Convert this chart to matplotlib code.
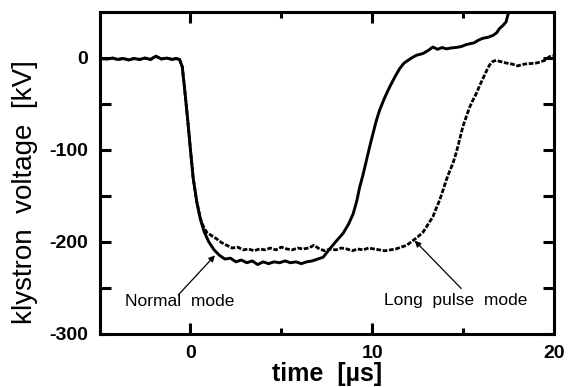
import matplotlib
matplotlib.use("Agg")
import matplotlib.pyplot as plt
from matplotlib.ticker import MultipleLocator

plt.rcParams['font.family'] = ['Liberation Sans', 'DejaVu Sans']
plt.rcParams['axes.unicode_minus'] = False

# Normal mode (solid)
t_normal = [-5.0, -4.6, -4.3, -4.0, -3.7, -3.4, -3.1, -2.8, -2.5, -2.2, -1.9, -1.6,
            -1.3, -1.0, -0.8, -0.6, -0.45, -0.3, -0.15, 0.0, 0.15, 0.35, 0.55, 0.75,
            1.0, 1.3, 1.6, 1.9, 2.2, 2.5, 2.8, 3.1, 3.4, 3.7, 4.0, 4.3, 4.6, 4.9,
            5.2, 5.5, 5.8, 6.1, 6.4, 6.7, 7.0, 7.3, 7.66, 8.0, 8.4, 8.7, 8.95, 9.15,
            9.31, 9.5, 9.68, 9.86, 10.04, 10.22, 10.41, 10.7, 10.96, 11.25, 11.51,
            11.75, 11.97, 12.2, 12.43, 12.8, 13.1, 13.34, 13.6, 13.85, 14.08, 14.35,
            14.6, 14.9, 15.15, 15.36, 15.6, 15.85, 16.09, 16.35, 16.64, 16.85, 17.0,
            17.2, 17.37, 17.46, 17.6]
v_normal = [-1, -1.5, -0.5, -2, -1, -2.5, -1, -2, -0.5, -2, 1.5, -1.5,
            -0.5, -2, -1, -2, -10, -38, -68, -100, -131, -157, -176, -189,
            -200, -209, -215, -219, -218, -222, -220, -223, -221, -225, -222, -224, -222, -223,
            -221, -223, -222, -224, -222, -221, -219, -217, -208, -200, -191, -181, -170, -156,
            -141, -127, -112, -97, -83, -69, -57, -43, -32, -21, -12,
            -6, -3, 0, 2.5, 4.5, 8, 11.5, 9, 11, 9.5, 10.5,
            11, 12, 14, 15, 16, 19, 21, 22, 24, 27, 31.5,
            35, 39, 46, 52]

# Long pulse mode (dashed)
t_long = [-5.0, -4.6, -4.3, -4.0, -3.7, -3.4, -3.1, -2.8, -2.5, -2.2, -1.9, -1.6,
          -1.3, -1.0, -0.8, -0.6, -0.45, -0.3, -0.15, 0.0, 0.15, 0.35, 0.55, 0.7,
          0.9, 1.2, 1.44, 1.7, 2.0, 2.3, 2.6, 2.9, 3.2, 3.5, 3.8, 4.1, 4.4, 4.7,
          5.0, 5.3, 5.6, 5.9, 6.2, 6.5, 6.8, 7.1, 7.4, 7.7, 8.0, 8.3, 8.6, 8.9,
          9.2, 9.5, 9.8, 10.1, 10.4, 10.7, 11.0, 11.3, 11.6, 11.9, 12.24, 12.5,
          12.79, 13.05, 13.34, 13.5, 13.71, 13.9, 14.08, 14.25, 14.44, 14.6, 14.71,
          14.85, 14.99, 15.18, 15.36, 15.55, 15.73, 15.9, 16.09, 16.3, 16.46, 16.65,
          16.82, 17.0, 17.2, 17.4, 17.7, 18.0, 18.2, 18.4, 18.7, 19.0, 19.2, 19.5,
          19.75, 20.0]
v_long = [-1, -1.5, -0.5, -2, -1, -2.5, -1, -2, -0.5, -2, 1.5, -1.5,
          -0.5, -2, -1, -2, -10, -38, -68, -100, -131, -157, -175, -183,
          -190, -194, -197, -201, -204, -207, -206, -209, -208, -210, -208, -209, -207, -209,
          -206, -208, -209, -207, -208, -207, -204, -208, -210, -208, -209, -207, -208, -210,
          -208, -209, -207, -208, -209, -210, -209, -208, -206, -204, -199, -195,
          -190, -182, -173, -165, -155, -144, -133, -124, -115, -105, -97,
          -86, -75, -64, -54, -46, -39, -31, -23, -14, -8, -4,
          -3, -4, -5, -6, -7, -9, -8, -7, -6.5, -6, -5, -3,
          1, 2]

x_ticks = [0, 10, 20]
y_ticks = [0, -100, -200, -300]

fig = plt.figure(figsize=(5.69, 3.87), dpi=100)
ax = fig.add_axes([0.175, 0.138, 0.7985, 0.832])

ax.plot(t_normal, v_normal, color='black', lw=2.1, solid_joinstyle='round')
ax.plot(t_long, v_long, color='black', lw=2.0, linestyle=(0, (1.7, 0.6)))

ax.set_xlim(-5, 20)
ax.set_ylim(-300, 50)
ax.set_xticks(x_ticks)
ax.set_yticks(y_ticks)
ax.xaxis.set_minor_locator(MultipleLocator(5))
ax.yaxis.set_minor_locator(MultipleLocator(50))

for s in ax.spines.values():
    s.set_linewidth(2.2)

ax.tick_params(which='both', direction='in', top=True, right=True, width=2.2,
               labelsize=14, pad=8)
ax.tick_params(axis='x', which='major', length=8)
ax.tick_params(axis='x', which='minor', length=4.5)
ax.tick_params(axis='y', which='both', length=8)
for lab in ax.get_xticklabels() + ax.get_yticklabels():
    lab.set_fontweight('bold')

ax.set_ylabel('klystron  voltage  [kV]', fontsize=20)
ax.yaxis.set_label_coords(-0.135, 0.44)
fig.text(0.574, 0.016, 'time  [µs]', fontsize=18, fontweight='bold',
         ha='center', va='baseline')

ax.text(-0.6, -265.5, 'Normal  mode', fontsize=12.5, ha='center', va='center')
ax.text(14.57, -263.5, 'Long  pulse  mode', fontsize=12.5, ha='center', va='center')
arrow = dict(arrowstyle='-|>', color='black', lw=0.9,
             shrinkA=0, shrinkB=0, mutation_scale=9)
ax.annotate('', xy=(1.35, -215), xytext=(-0.67, -258), arrowprops=arrow)
ax.annotate('', xy=(12.34, -199), xytext=(14.9, -251), arrowprops=arrow)

fig.savefig('out.png', dpi=100)
